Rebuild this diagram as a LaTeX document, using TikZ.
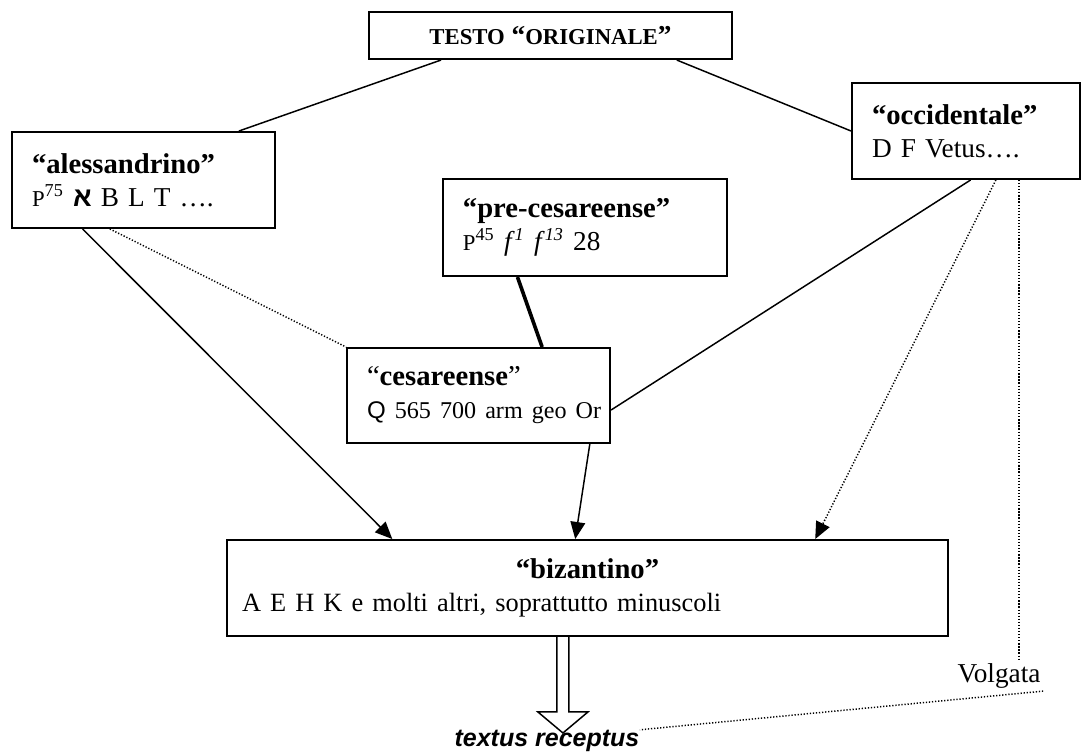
\documentclass[tikz,border=0pt]{standalone}
\usepackage{fontspec}
\setmainfont{Liberation Serif}
\newfontfamily\arialfont{Liberation Sans}
\newfontfamily\hebfont[Script=Hebrew]{Liberation Sans}
\usetikzlibrary{calc,arrows.meta}

\newcommand{\boxtitle}[1]{{\fontsize{12.6pt}{14.5pt}\selectfont\bfseries #1}}
\newcommand{\papyrus}{{\fontsize{10pt}{12pt}\selectfont P}}

\begin{document}
\begin{tikzpicture}[x=0.44pt,y=-0.44pt,
  box/.style={draw, line width=0.9pt, inner ysep=0pt, inner xsep=8.8pt, align=left,
    font=\fontsize{12pt}{14.5pt}\selectfont},
  link/.style={line width=0.65pt},
  dotline/.style={line width=0.65pt, dash pattern=on 0.55pt off 0.8pt},
  arrowend/.style={-{Triangle[length=7.5pt,width=6.5pt]}}]

\useasboundingbox (0,0) rectangle (1089,754);

% boxes
\node[box, minimum width=159.7pt, minimum height=20.7pt, align=center] (testo) at (550.5,35.5)
  {\bfseries{\fontsize{10pt}{12pt}\selectfont TESTO} “{\fontsize{10pt}{12pt}\selectfont ORIGINALE}”};
\node[box, minimum width=115.7pt, minimum height=42.2pt, text width=98.1pt] (alex) at (143.5,180)
  {\boxtitle{“alessandrino”}\\ \papyrus\textsuperscript{75} {\hebfont\bfseries א} B L T ….};
\node[box, minimum width=100.3pt, minimum height=42.2pt, text width=82.7pt] (occ) at (966,131)
  {\boxtitle{“occidentale”}\\ D F Vetus….};
\node[box, minimum width=125pt, minimum height=42.7pt, text width=107.4pt] (pre) at (585,227.5)
  {\boxtitle{“pre-cesareense”}\\ \papyrus\textsuperscript{45} \textit{f}\textsuperscript{\textit{1}} \textit{f}\textsuperscript{\textit{13}} 28};
\node[box, minimum width=115.7pt, minimum height=41.8pt, text width=98.1pt] (ces) at (478.5,395.5)
  {{\fontsize{12.6pt}{14.5pt}\selectfont “\textbf{cesareense}”}\\ \mbox{\fontsize{10.6pt}{14.5pt}\selectfont{\arialfont Q} 565 700 arm geo Or}};
\node[box, minimum width=317.2pt, minimum height=42.2pt, inner xsep=6.6pt, text width=304pt] (biz) at (587.5,588)
  {\makebox[\linewidth]{\boxtitle{“bizantino”}}\\ {\fontsize{11.6pt}{14.5pt}\selectfont A E H K e molti altri, soprattutto minuscoli}};

% hollow arrow
\coordinate (recv) at ($(biz.south west)!0.466!(biz.south east)$);
\draw[link] (recv) ++(-6,0) -- ++(0,75) -- ++(-19,0) -- ++(25,21) -- ++(25,-21) -- ++(-19,0) -- ++(0,-75);

\node[inner sep=0pt, font=\fontsize{11pt}{13pt}\selectfont\arialfont\bfseries\itshape] (textus) at (547,741) {textus receptus};
\node[inner sep=1pt, font=\fontsize{12pt}{14pt}\selectfont] (volg) at (999,676) {Volgata};

% connectors
\draw[link] ($(testo.south west)!0.2!(testo.south east)$) -- ($(alex.north west)!0.86!(alex.north east)$);
\draw[link] ($(testo.south west)!0.846!(testo.south east)$) -- (occ.west);
\draw[link, arrowend] ($(alex.south west)!0.27!(alex.south east)$) -- ($(biz.north west)!0.23!(biz.north east)$);
\draw[dotline] ($(alex.south west)!0.373!(alex.south east)$) -- (ces.north west);
\draw[line width=1.6pt] ($(pre.south west)!0.264!(pre.south east)$) -- ($(ces.north west)!0.74!(ces.north east)$);
\draw[link, arrowend] ($(ces.south west)!0.92!(ces.south east)$) -- ($(biz.north west)!0.483!(biz.north east)$);
\draw[link] ($(occ.south west)!0.52!(occ.south east)$) -- ($(ces.north east)!0.65!(ces.south east)$);
\draw[dotline, arrowend] ($(occ.south west)!0.63!(occ.south east)$) -- ($(biz.north west)!0.815!(biz.north east)$);
\coordinate (vtop) at ($(occ.south west)!0.73!(occ.south east)$);
\draw[dotline] (vtop) -- (vtop |- volg.north);
\draw[dotline] (volg.south east) -- (textus.north east);
\end{tikzpicture}
\end{document}
